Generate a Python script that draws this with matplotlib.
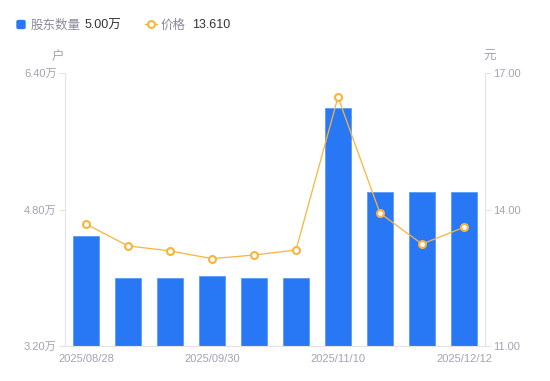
import matplotlib
matplotlib.use("Agg")
from matplotlib import pyplot as plt
from matplotlib.lines import Line2D
from matplotlib.patches import FancyBboxPatch

plt.rcParams['font.family'] = ['Liberation Sans', 'Noto Sans CJK SC', 'DejaVu Sans']

dates = ['2025/08/28', '2025/09/10', '2025/09/20', '2025/09/30', '2025/10/10',
         '2025/10/20', '2025/11/10', '2025/11/20', '2025/11/30', '2025/12/12']
holders = [4.49, 4.00, 4.00, 4.02, 4.00, 4.00, 5.99, 5.00, 5.00, 5.00]   # 万户
price = [13.68, 13.20, 13.09, 12.92, 13.00, 13.11, 16.47, 13.92, 13.24, 13.61]
shown = [0, 3, 6, 9]

blue = '#2878f5'
orange = '#f9b43c'
grey = '#a3a3b3'
axis_c = '#e3e3e3'

fig = plt.figure(figsize=(5.5, 3.81), dpi=100)
ax = fig.add_axes([65/550, 1-346/381, 420/550, 273/381])
x = range(len(dates))
ax.bar(x, holders, width=0.6, color=blue, edgecolor='#5d9bf7', linewidth=0.6, zorder=2)
ax.set_xlim(-0.5, len(dates)-0.5)
ax.set_ylim(3.2, 6.4)
ax.set_yticks([3.2, 4.8, 6.4])
ax.set_yticklabels(['%.2f万' % v for v in [3.2, 4.8, 6.4]])
ax.set_xticks(shown)
ax.set_xticklabels([dates[i] for i in shown])
ax.tick_params(axis='y', colors=axis_c, labelcolor=grey, labelsize=8, length=4, width=0.8, pad=2)
ax.tick_params(axis='x', length=0, labelcolor=grey, labelsize=8, pad=6)
for s in ['top', 'right']:
    ax.spines[s].set_visible(False)
for s in ['left', 'bottom']:
    ax.spines[s].set_color(axis_c)

ax2 = ax.twinx()
ax2.plot(x, price, color=orange, linewidth=0.9, marker='o', markersize=5,
         markerfacecolor='white', markeredgecolor=orange, markeredgewidth=1.5, zorder=3)
ax2.set_ylim(11, 17)
ax2.set_yticks([11, 14, 17])
ax2.set_yticklabels(['%.2f' % v for v in [11, 14, 17]])
ax2.tick_params(axis='y', colors=axis_c, labelcolor=grey, labelsize=8, length=4, width=0.8, pad=2)
for s in ['top', 'left', 'bottom']:
    ax2.spines[s].set_visible(False)
ax2.spines['right'].set_color(axis_c)

fig.text(58/550, 1-57/381, '户', color=grey, fontsize=9, ha='center', va='center')
fig.text(490/550, 1-57/381, '元', color=grey, fontsize=9, ha='center', va='center')

# legend
ly = 1 - 24/381
fig.patches.append(FancyBboxPatch((17/550, 1-28.5/381), 8/550, 8/381,
                                  boxstyle='round,pad=0,rounding_size=0.003', color=blue,
                                  transform=fig.transFigure, figure=fig))
fig.text(31/550, ly, '股东数量', color='#8a8a9a', fontsize=9, va='center_baseline')
fig.text(85/550, ly, '%.2f万' % holders[-1], color='#333333', fontsize=9, va='center_baseline')
fig.lines.append(Line2D([145/550, 157/550], [ly, ly], color=orange, linewidth=1,
                        transform=fig.transFigure))
fig.lines.append(Line2D([151/550], [ly], color=orange, marker='o', markersize=5,
                        markerfacecolor='white', markeredgewidth=1.5, transform=fig.transFigure))
fig.text(161/550, ly, '价格', color='#8a8a9a', fontsize=9, va='center_baseline')
fig.text(192/550, ly, '%.3f' % 13.61, color='#333333', fontsize=9, va='center_baseline')

plt.savefig('out.png', dpi=100)
